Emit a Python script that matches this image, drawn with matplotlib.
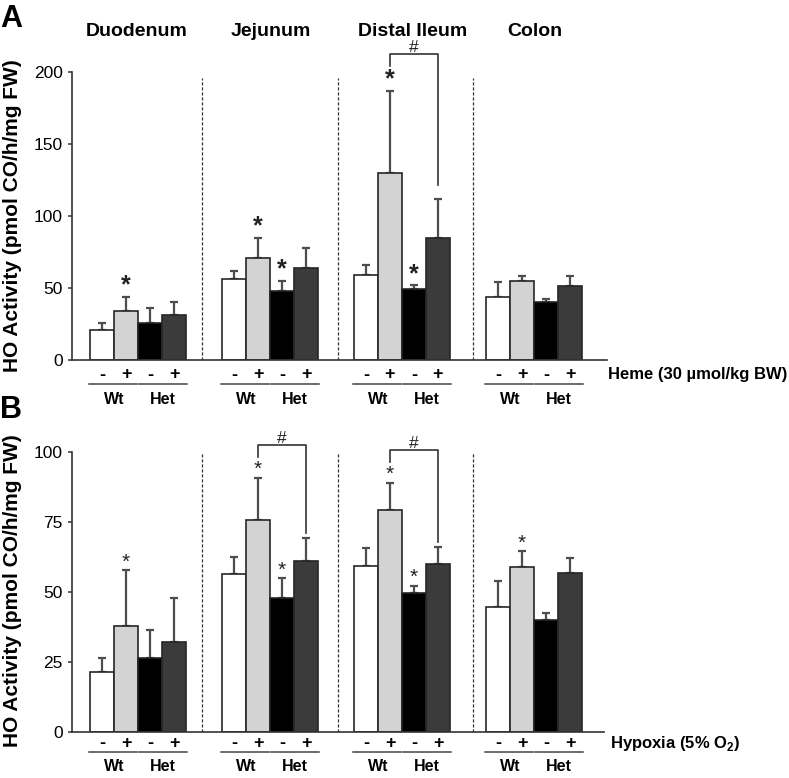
import matplotlib
matplotlib.use('Agg')
import matplotlib.pyplot as plt
import numpy as np
from matplotlib.transforms import ScaledTranslation

plt.rcParams['font.family'] = ['Liberation Sans', 'DejaVu Sans']
plt.rcParams['mathtext.fontset'] = 'custom'
plt.rcParams['mathtext.rm'] = 'Liberation Sans'
plt.rcParams['mathtext.bf'] = 'Liberation Sans:bold'

########################################## data ##########################################
segments = ['Duodenum', 'Jejunum', 'Distal Ileum', 'Colon']
signs = ['-', '+', '-', '+']
genotypes = ['Wt', 'Het']
bar_colors = ['#ffffff', '#d3d3d3', '#000000', '#3b3b3b']

# panel A : heme (Wt-, Wt+, Het-, Het+) per segment
heme_mean = [[21, 34, 26, 31], [56, 70.5, 48, 64], [59, 130, 49, 84.5], [44, 55, 40, 51.5]]
heme_sem = [[5, 10, 10, 9], [6, 14.5, 7, 14], [7, 57, 3, 27.5], [10, 3, 2.6, 7]]
heme_stars = [(0, 1), (1, 1), (1, 2), (2, 1), (2, 2)]
heme_hash = [2]

# panel B : hypoxia
hyp_mean = [[21.3, 38, 26.4, 32], [56.2, 75.6, 48, 60.9], [59.3, 79.1, 49.5, 60], [44.5, 58.8, 40, 56.7]]
hyp_sem = [[5.1, 19.7, 9.9, 15.7], [6.1, 15.1, 6.8, 8.4], [6.3, 9.8, 2.7, 6.1], [9.3, 5.7, 2.6, 5.4]]
hyp_stars = [(0, 1), (1, 1), (1, 2), (2, 1), (2, 2), (3, 1)]
hyp_hash = [1, 2]

########################################## layout ##########################################
W, H = 789, 778
fig = plt.figure(figsize=(W / 100, H / 100), dpi=100)

def px_axes(left, right, top, bottom):
    return fig.add_axes([left / W, 1 - bottom / H, (right - left) / W, (bottom - top) / H])

def shifted(ax, dx_px, dy_px, base):
    return base + ScaledTranslation(dx_px / 100, dy_px / 100, fig.dpi_scale_trans)

group_start = [0.75 + 5.5 * i for i in range(4)]
dash_x = [5.42, 11.08, 16.7]

def draw_panel(ax, mean, sem, stars, hashes, ymax, yticks, ax_h_px, dash_top,
               star_size, star_weight, star_pad, leg_gap, sign_dy, line_dy, geno_dy):
    upp = ymax / ax_h_px  # data units per pixel
    xs = []
    for g in range(4):
        x = np.array([group_start[g] + 0.5 + j for j in range(4)])
        xs.append(x)
        ax.errorbar(x, mean[g], yerr=[np.zeros(4), sem[g]], fmt='none', ecolor='#4d4d4d',
                    elinewidth=1.6, capsize=3, capthick=1.6, zorder=1)
        ax.bar(x, mean[g], width=1.0, color=bar_colors, edgecolor='#262626', linewidth=1.2, zorder=2)

    for d in dash_x:
        ax.plot([d, d], [0, dash_top], ls=(0, (2.5, 1.5)), color='#333333', lw=0.9)

    star_y = {}
    for g, j in stars:
        y = mean[g][j] + sem[g][j] + star_pad * upp
        star_y[(g, j)] = y
        ax.text(xs[g][j], y, '*', ha='center', va='center', fontsize=star_size,
                fontweight=star_weight, color='#222222', clip_on=False)

    for g in hashes:
        x1, x2 = xs[g][1], xs[g][3]
        y1 = star_y[(g, 1)] + (10 + 0.14 * star_size * 1.39) * upp
        y2 = mean[g][3] + sem[g][3] + leg_gap * upp
        top = y1 + 12 * upp
        ax.plot([x1, x1, x2, x2], [y1, top, top, y2], color='#333333', lw=1.2, clip_on=False)
        ax.text((x1 + x2) / 2, top + 6.5 * upp, '#', ha='center', va='center', fontsize=12.5,
                color='#222222', clip_on=False)

    # -/+ and genotype labels under the axis
    xt = ax.get_xaxis_transform()
    for g in range(4):
        for j in range(4):
            ax.text(xs[g][j], 0, signs[j], ha='center', va='center', fontsize=13, fontweight='bold',
                    transform=shifted(ax, 0, -sign_dy, xt))
        for k in range(2):
            x0 = group_start[g] + 2 * k
            ax.plot([x0 - 0.04 + 0.1 * k, x0 + 1.96 + 0.1 * k], [0, 0], color='#444444', lw=1.1,
                    transform=shifted(ax, 0, -line_dy, xt), clip_on=False)
            ax.text(x0 + 1.0 + 0.05 * k, 0, genotypes[k], ha='center', va='center', fontsize=11.5,
                    fontweight='bold', transform=shifted(ax, 0, -geno_dy, xt))

    ax.set_ylim(0, ymax)
    ax.set_yticks(yticks)
    ax.set_xticks([])
    for s in ['top', 'right']:
        ax.spines[s].set_visible(False)
    for s in ['left', 'bottom']:
        ax.spines[s].set_color('#333333')
        ax.spines[s].set_linewidth(1.2)
    ax.tick_params(axis='y', direction='out', length=3, width=1.1, color='#333333',
                   labelsize=12.5, pad=3.5)

axA = px_axes(72, 607, 72, 360)
axA.set_xlim(0, (607 - 72) / 24)
draw_panel(axA, heme_mean, heme_sem, heme_stars, heme_hash, 200, [0, 50, 100, 150, 200], 288, 196,
           18, 'bold', 11, 14, 15, 24, 39)

axB = px_axes(72, 604, 451.5, 732.3)
axB.set_xlim(0, (604 - 72) / 24)
draw_panel(axB, hyp_mean, hyp_sem, hyp_stars, hyp_hash, 100, [0, 25, 50, 75, 100], 280.8, 100,
           15, 'normal', 8, 5, 11, 20, 34.4)

axA.text(1.0, 0, 'Heme (30 \u00b5mol/kg BW)', ha='left', va='center', fontsize=12, fontweight='bold',
         transform=shifted(axA, 1, -15, axA.transAxes))
axB.text(1.0, 0, r'Hypoxia (5% O$_\mathbf{2}$)', ha='left', va='center', fontsize=12, fontweight='bold',
         transform=shifted(axB, 6, -11.5, axB.transAxes))

title_x = [137, 271, 413, 535]
for name, x in zip(segments, title_x):
    fig.text(x / W, 1 - 32 / H, name, ha='center', va='center', fontsize=14, fontweight='bold')

fig.text(11 / W, 1 - 19 / H, 'A', ha='center', va='center', fontsize=22, fontweight='bold')
fig.text(11 / W, 1 - 410 / H, 'B', ha='center', va='center', fontsize=22, fontweight='bold')

ylab = 'HO Activity (pmol CO/h/mg FW)'
fig.text(13 / W, 1 - 216 / H, ylab, rotation=90, ha='center', va='center', fontsize=15, fontweight='bold')
fig.text(13 / W, 1 - 591 / H, ylab, rotation=90, ha='center', va='center', fontsize=15, fontweight='bold')

fig.savefig('out.png', dpi=100)
